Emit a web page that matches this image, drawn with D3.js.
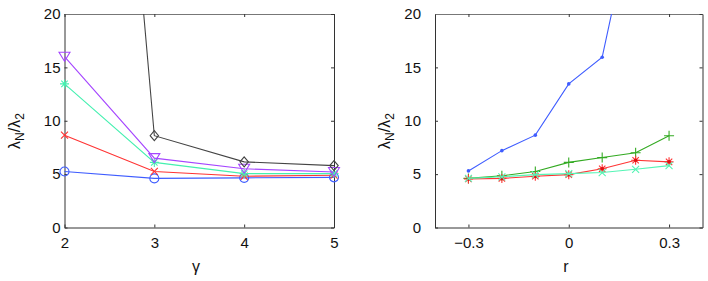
<!DOCTYPE html>
<html>
<head>
<meta charset="utf-8">
<script src="https://cdn.jsdelivr.net/npm/d3@7"></script>
<style>
  body { margin: 0; background: #fff; }
  text { font-family: "Liberation Sans", Arial, sans-serif; }
</style>
</head>
<body>
<div id="chart"></div>
<script>
// left panel data (gamma)
const gammas = [2, 3, 4, 5]
const gDiamond = [105, 8.6, 6.15, 5.8]
const gTriangle = [16.0, 6.5, 5.5, 5.2]
const gStar = [13.45, 6.1, 5.05, 5.05]
const gCross = [8.65, 5.25, 4.8, 4.9]
const gCircle = [5.25, 4.6, 4.65, 4.7]

// right panel data (r)
const rs = [-0.3, -0.2, -0.1, 0, 0.1, 0.2, 0.3]
const rDot = [5.3, 7.2, 8.65, 13.45, 15.95, 30.5, 45]
const rPlus = [4.6, 4.85, 5.25, 6.1, 6.55, 7.0, 8.6]
const rStar = [4.55, 4.6, 4.8, 4.95, 5.5, 6.3, 6.15]
const rCross = [4.6, 4.75, 4.95, 5.05, 5.15, 5.45, 5.8]

const yTicks = [0, 5, 10, 15, 20]
const gTicks = [2, 3, 4, 5]
const rTicks = [-0.3, 0, 0.3]

const svg = d3.select("#chart").append("svg")
  .attr("width", 708).attr("height", 281)

// marker shapes, centred on 0,0
function markerPath(type) {
  const p = d3.path()
  if (type === "circle") { p.moveTo(4.5, 0); p.arc(0, 0, 4.5, 0, 2 * Math.PI) }
  else if (type === "cross") { p.moveTo(-3.5, -3.5); p.lineTo(3.5, 3.5); p.moveTo(-3.5, 3.5); p.lineTo(3.5, -3.5) }
  else if (type === "plus") { p.moveTo(-5, 0); p.lineTo(5, 0); p.moveTo(0, -5); p.lineTo(0, 5) }
  else if (type === "star") {
    p.moveTo(-4.5, 0); p.lineTo(4.5, 0); p.moveTo(0, -4.5); p.lineTo(0, 4.5)
    p.moveTo(-3.2, -3.2); p.lineTo(3.2, 3.2); p.moveTo(-3.2, 3.2); p.lineTo(3.2, -3.2)
  }
  else if (type === "triangle") { p.moveTo(-5.5, -4.5); p.lineTo(5.5, -4.5); p.lineTo(0, 4.5); p.closePath() }
  else if (type === "diamond") { p.moveTo(0, -5); p.lineTo(4.2, 0); p.lineTo(0, 5); p.lineTo(-4.2, 0); p.closePath() }
  return p.toString()
}

function buildPanel(opt) {
  const x = d3.scaleLinear().domain(opt.xDomain).range([opt.left, opt.right])
  const y = d3.scaleLinear().domain([0, 20]).range([227.5, 14])

  const g = svg.append("g")
  const clipId = "clip" + opt.id
  // clip only at the top, markers may spill over the side axes
  g.append("clipPath").attr("id", clipId)
    .append("rect").attr("x", opt.left - 12).attr("y", 14)
    .attr("width", opt.right - opt.left + 24).attr("height", 227.5 - 14 + 12)

  // axes (ticks inward)
  const bottom = g.append("g").attr("transform", "translate(0,227.5)")
    .call(d3.axisBottom(x).tickValues(opt.xTicks).tickSizeInner(-3).tickSizeOuter(0)
      .tickPadding(10).tickFormat(opt.fmt))
  const left = g.append("g").attr("transform", `translate(${opt.left},0)`)
    .call(d3.axisLeft(y).tickValues(yTicks).tickSizeInner(-3).tickSizeOuter(0).tickPadding(opt.yPad))
  const top = g.append("g").attr("transform", "translate(0,14)")
    .call(d3.axisTop(x).tickValues(opt.xTicks).tickSizeInner(-3).tickSizeOuter(0).tickFormat(""))
  const right = g.append("g").attr("transform", `translate(${opt.right},0)`)
    .call(d3.axisRight(y).tickValues(yTicks).tickSizeInner(-3).tickSizeOuter(0).tickFormat(""))
  for (const a of [bottom, left, top, right]) {
    a.select(".domain").attr("stroke", "#333")
    a.selectAll(".tick line").attr("stroke", "#333")
    a.selectAll("text").attr("font-size", 15).attr("fill", "#111")
      .attr("font-family", "'Liberation Sans', Arial, sans-serif")
  }
  top.select(".domain").attr("stroke", "#777")

  // series
  const plot = g.append("g").attr("clip-path", `url(#${clipId})`)
  opt.series.forEach(s => {
    const pts = opt.xs.map((v, i) => [v, s.values[i]])
    plot.append("path").datum(pts)
      .attr("fill", "none").attr("stroke", s.color).attr("stroke-width", 1.1)
      .attr("d", d3.line().x(d => x(d[0])).y(d => y(d[1])))
    plot.selectAll(null).data(pts).enter().append("path")
      .attr("transform", d => `translate(${x(d[0])},${y(d[1])})`)
      .attr("d", markerPath(s.marker))
      .attr("fill", "none").attr("stroke", s.color).attr("stroke-width", 1.1)
    if (s.marker === "dot" || s.dot) {
      plot.selectAll(null).data(pts).enter().append("circle")
        .attr("cx", d => x(d[0])).attr("cy", d => y(d[1]))
        .attr("r", 1.8).attr("fill", s.dotColor || s.color)
    }
  })

  // axis titles
  g.append("text").attr("x", opt.xLabelX).attr("y", 272)
    .attr("text-anchor", "middle").attr("font-size", 16).attr("fill", "#111")
    .text(opt.xLabel)
  const yl = g.append("text")
    .attr("transform", `translate(${opt.yLabelX},131) rotate(-90)`)
    .attr("text-anchor", "middle").attr("font-size", 16).attr("fill", "#111")
  yl.append("tspan").text("λ")
  yl.append("tspan").attr("font-size", 12).attr("dy", 4).text("N")
  yl.append("tspan").attr("dy", -4).text("/λ")
  yl.append("tspan").attr("font-size", 12).attr("dy", 4).text("2")
}

buildPanel({
  id: "A", left: 64.5, right: 334, xDomain: [2, 5], xTicks: gTicks, xs: gammas,
  fmt: d3.format("d"), yPad: 4, xLabel: "γ", xLabelX: 196, yLabelX: 20,
  series: [
    { values: gCircle, color: "#3f5dff", marker: "circle" },
    { values: gCross, color: "#ff3333", marker: "cross" },
    { values: gStar, color: "#45f0b0", marker: "star" },
    { values: gTriangle, color: "#a545ff", marker: "triangle" },
    { values: gDiamond, color: "#444444", marker: "diamond" }
  ]
})

buildPanel({
  id: "B", left: 435, right: 702.5, xDomain: [-0.4, 0.4], xTicks: rTicks, xs: rs,
  fmt: d => d === 0 ? "0" : d3.format(".1f")(d), yPad: 14, xLabel: "r", xLabelX: 566, yLabelX: 390,
  series: [
    { values: rDot, color: "#3f5dff", marker: "dot" },
    { values: rPlus, color: "#33aa22", marker: "plus" },
    { values: rStar, color: "#ff3333", marker: "star", dot: true, dotColor: "#dd1111" },
    { values: rCross, color: "#55f5b5", marker: "cross" }
  ]
})
</script>
</body>
</html>
